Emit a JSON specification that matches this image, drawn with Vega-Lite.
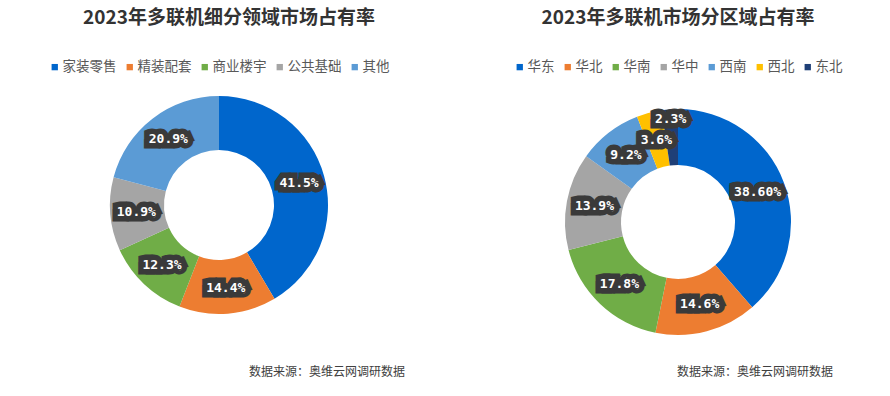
{
  "$schema": "https://vega.github.io/schema/vega-lite/v6.json",
  "background": "white",
  "padding": {"top": 9, "left": 0, "right": 0, "bottom": 0},
  "spacing": 28,
  "config": {
    "view": {"stroke": null},
    "font": "Noto Sans CJK SC",
    "title": {"font": "Noto Sans CJK SC"},
    "legend": {"labelFont": "Noto Sans CJK SC", "layout": {"top": {"anchor": "middle"}}}
  },
  "resolve": {"scale": {"color": "independent", "theta": "independent"}, "legend": {"color": "independent"}},
  "hconcat": [
    {
      "title": {"text": "2023年多联机细分领域市场占有率", "fontSize": 19, "fontWeight": "bold", "color": "#333333", "anchor": "middle", "dx": 10, "offset": 32},
      "vconcat": [
        {
          "width": 438,
          "height": 240,
          "title": {"text": "数据来源：奥维云网调研数据", "orient": "bottom", "anchor": "end", "dx": -33, "offset": 42, "fontSize": 12, "fontWeight": "normal", "color": "#404040"},
          "data": {"values": [
            {"seg": "家装零售", "share": 41.5, "k": 1, "label": "41.5%"},
            {"seg": "精装配套", "share": 14.4, "k": 2, "label": "14.4%"},
            {"seg": "商业楼宇", "share": 12.3, "k": 3, "label": "12.3%"},
            {"seg": "公共基础", "share": 10.9, "k": 4, "label": "10.9%"},
            {"seg": "其他", "share": 20.9, "k": 5, "label": "20.9%"}
          ]},
          "encoding": {
            "theta": {"field": "share", "type": "quantitative", "stack": true},
            "order": {"field": "k", "type": "quantitative"},
            "detail": {"field": "seg", "type": "nominal"}
          },
          "layer": [
            {
              "mark": {"type": "arc", "outerRadius": 109, "innerRadius": 55},
              "encoding": {
                "color": {
                  "field": "seg", "type": "nominal",
                  "scale": {"domain": ["家装零售", "精装配套", "商业楼宇", "公共基础", "其他"], "range": ["#0066CC", "#ED7D31", "#70AD47", "#A5A5A5", "#5B9BD5"]},
                  "legend": {"orient": "top", "direction": "horizontal", "title": null, "symbolType": "square", "symbolSize": 40, "symbolStrokeWidth": 0, "labelFontSize": 13.5, "labelColor": "#595959", "offset": 11, "columnPadding": 6, "labelOffset": 1}
                }
              }
            },
            {
              "mark": {"type": "text", "radius": 83, "font": "DejaVu Sans Mono", "fontSize": 13, "fontWeight": "bold", "fill": "#3a3a3a", "stroke": "#3a3a3a", "strokeWidth": 11, "strokeJoin": "miter", "strokeMiterLimit": 2},
              "encoding": {"text": {"field": "label"}}
            },
            {
              "mark": {"type": "text", "radius": 83, "font": "DejaVu Sans Mono", "fontSize": 13, "fontWeight": "bold", "fill": "white"},
              "encoding": {"text": {"field": "label"}}
            }
          ]
        }
      ]
    },
    {
      "title": {"text": "2023年多联机市场分区域占有率", "fontSize": 19, "fontWeight": "bold", "color": "#333333", "anchor": "middle", "offset": 32},
      "vconcat": [
        {
          "width": 424,
          "height": 274,
          "title": {"text": "数据来源：奥维云网调研数据", "orient": "bottom", "anchor": "end", "dx": -57, "offset": 8, "fontSize": 12, "fontWeight": "normal", "color": "#404040"},
          "data": {"values": [
            {"seg": "华东", "share": 38.6, "k": 1, "label": "38.60%"},
            {"seg": "华北", "share": 14.6, "k": 2, "label": "14.6%"},
            {"seg": "华南", "share": 17.8, "k": 3, "label": "17.8%"},
            {"seg": "华中", "share": 13.9, "k": 4, "label": "13.9%"},
            {"seg": "西南", "share": 9.2, "k": 5, "label": "9.2%"},
            {"seg": "西北", "share": 3.6, "k": 6, "label": "3.6%"},
            {"seg": "东北", "share": 2.3, "k": 7, "label": "2.3%"}
          ]},
          "encoding": {
            "theta": {"field": "share", "type": "quantitative", "stack": true},
            "order": {"field": "k", "type": "quantitative"},
            "detail": {"field": "seg", "type": "nominal"}
          },
          "layer": [
            {
              "mark": {"type": "arc", "outerRadius": 113, "innerRadius": 57},
              "encoding": {
                "color": {
                  "field": "seg", "type": "nominal",
                  "scale": {"domain": ["华东", "华北", "华南", "华中", "西南", "西北", "东北"], "range": ["#0066CC", "#ED7D31", "#70AD47", "#A5A5A5", "#5B9BD5", "#FFC000", "#1F3F77"]},
                  "legend": {"orient": "top", "direction": "horizontal", "title": null, "symbolType": "square", "symbolSize": 40, "symbolStrokeWidth": 0, "labelFontSize": 13.5, "labelColor": "#595959", "offset": 11, "columnPadding": 6, "labelOffset": 1}
                }
              }
            },
            {
              "mark": {"type": "text", "radius": 85, "font": "DejaVu Sans Mono", "fontSize": 13, "fontWeight": "bold", "fill": "#3a3a3a", "stroke": "#3a3a3a", "strokeWidth": 11, "strokeJoin": "miter", "strokeMiterLimit": 2},
              "encoding": {"text": {"field": "label"}, "opacity": {"condition": {"test": "datum.seg === '东北'", "value": 0}, "value": 1}}
            },
            {
              "mark": {"type": "text", "radius": 85, "font": "DejaVu Sans Mono", "fontSize": 13, "fontWeight": "bold", "fill": "white"},
              "encoding": {"text": {"field": "label"}, "opacity": {"condition": {"test": "datum.seg === '东北'", "value": 0}, "value": 1}}
            },
            {
              "mark": {"type": "text", "radius": 103, "font": "DejaVu Sans Mono", "fontSize": 13, "fontWeight": "bold", "fill": "#3a3a3a", "stroke": "#3a3a3a", "strokeWidth": 11, "strokeJoin": "miter", "strokeMiterLimit": 2},
              "encoding": {"text": {"field": "label"}, "opacity": {"condition": {"test": "datum.seg === '东北'", "value": 1}, "value": 0}}
            },
            {
              "mark": {"type": "text", "radius": 103, "font": "DejaVu Sans Mono", "fontSize": 13, "fontWeight": "bold", "fill": "white"},
              "encoding": {"text": {"field": "label"}, "opacity": {"condition": {"test": "datum.seg === '东北'", "value": 1}, "value": 0}}
            }
          ]
        }
      ]
    }
  ]
}
